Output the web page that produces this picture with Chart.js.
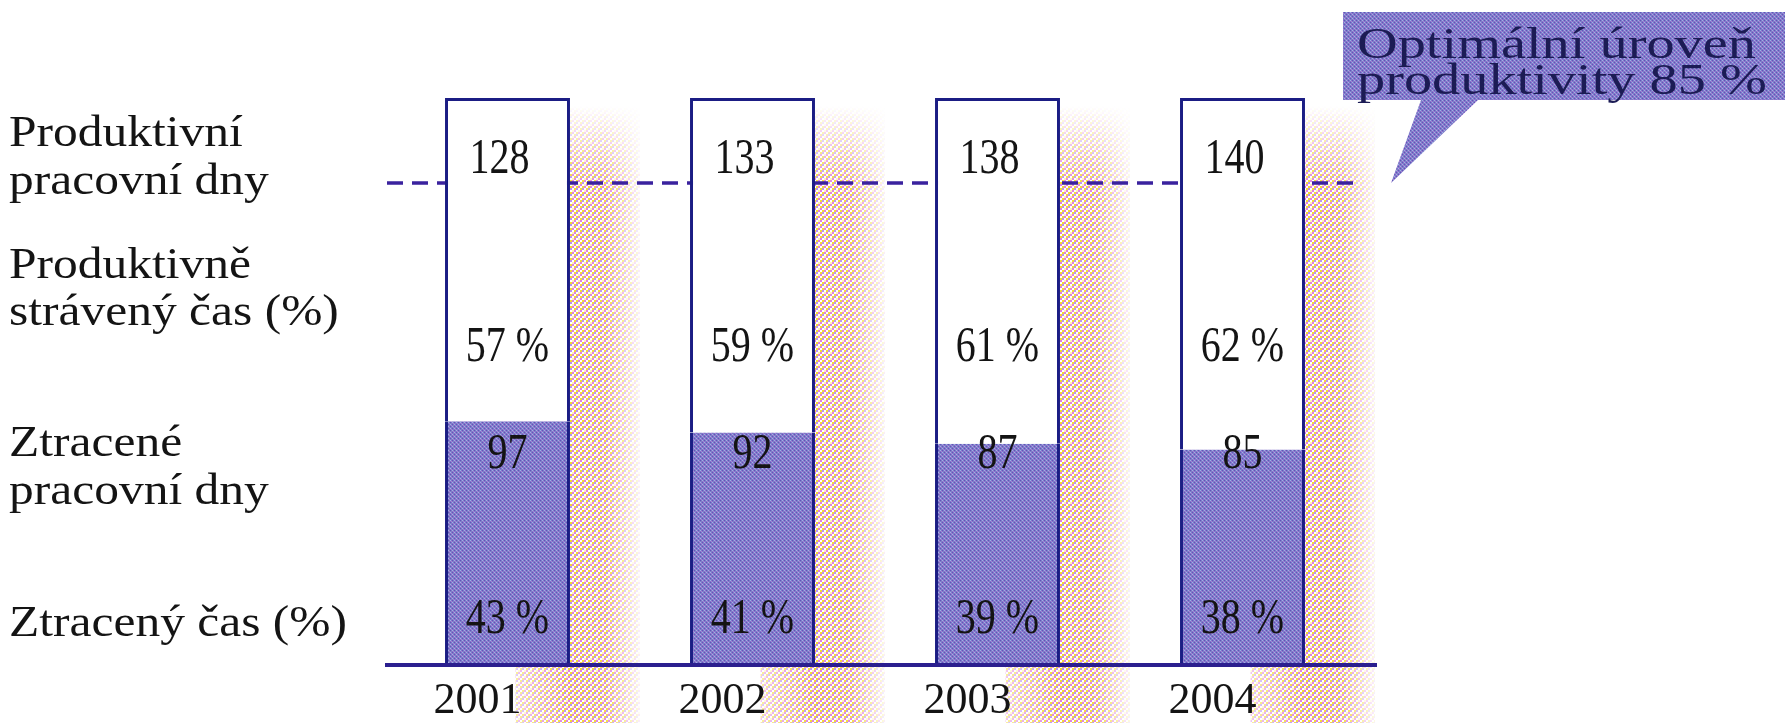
<!DOCTYPE html>
<html lang="cs">
<head>
<meta charset="utf-8">
<title>Produktivita 2001–2004</title>
<script src="https://cdn.jsdelivr.net/npm/chart.js@4.4.1/dist/chart.umd.min.js"></script>
<style>
  html, body { margin: 0; padding: 0; background: #fff; }
  #graf { display: block; }
</style>
</head>
<body>
<canvas id="graf" width="1785" height="723"></canvas>
<script>
var ROKY = ["2001", "2002", "2003", "2004"]
var PRODUKTIVNI_DNY = [128, 133, 138, 140]
var ZTRACENE_DNY = [97, 92, 87, 85]
var PRODUKTIVNI_PROC = [57, 59, 61, 62]
var ZTRACENE_PROC = [43, 41, 39, 38]
var OPTIMUM = 85

var RADKY_VLEVO = [
    ["Produktivní", "pracovní dny"],
    ["Produktivně", "strávený čas (%)"],
    ["Ztracené", "pracovní dny"],
    ["Ztracený čas (%)"],
]
var BUBLINA = ["Optimální úroveň", "produktivity " + OPTIMUM + " %"]

var BARVY = {
    "okraj": "#1b1d84",
    "carkovana": "#3a229e",
    "osa": "#2b1f8f",
    "text": "#141414",
    "text_bublina": "#1c1c55",
}
var PISMO = '"Liberation Serif", "DejaVu Serif", serif'

var canvas = document.getElementById("graf")
var ctx = canvas.getContext("2d")

// rastr modre vyplne (ztraceny cas + bublina)
function rastrModry(){
    var c = document.createElement("canvas")
    c.width = 4; c.height = 4
    var g = c.getContext("2d")
    g.fillStyle = "#7f7bc8"; g.fillRect(0, 0, 4, 4)
    g.fillStyle = "#5f55b8"; g.fillRect(0, 0, 1, 1); g.fillRect(2, 2, 1, 1)
    g.fillStyle = "#a0b0e6"; g.fillRect(2, 0, 1, 1); g.fillRect(0, 2, 1, 1)
    g.fillStyle = "#ad7ad6"; g.fillRect(1, 3, 1, 1); g.fillRect(3, 1, 1, 1)
    return ctx.createPattern(c, "repeat")
}

// rastr zluto-ruzoveho stinu vedle sloupcu (mrizka 3x3 bunek po 2 px)
function rastrStin(){
    var bunky = [
        ["#f4d932", "#df7ee0", "#ffffff"],
        ["#b98ff2", "#ffffff", "#f4d932"],
        ["#ffffff", "#fff2b0", "#df7ee0"],
    ]
    var c = document.createElement("canvas")
    c.width = 6; c.height = 6
    var g = c.getContext("2d")
    bunky.forEach(function(radek, r){
        radek.forEach(function(barva, s){
            g.fillStyle = barva
            g.fillRect(s * 2, r * 2, 2, 2)
        })
    })
    return ctx.createPattern(c, "repeat")
}

var modra = rastrModry()
var stinVzor = rastrStin()

function text(c, s, x, y, size, sx, color, align){
    c.save()
    c.translate(x, y)
    c.scale(sx, 1)
    c.font = size + "px " + PISMO
    c.fillStyle = color
    c.textAlign = align || "center"
    c.textBaseline = "middle"
    c.fillText(s, 0, 0)
    c.restore()
}

var popisky = {
    id: "popisky",
    // stiny a carkovana cara jdou pod osy i sloupce
    beforeDraw: function(chart, args, opts){
        var c = chart.ctx
        var area = chart.chartArea
        var horni = chart.getDatasetMeta(1).data
        var H = chart.height

        horni.forEach(function(bar){
            var xR = bar.x + bar.width / 2
            var xC = bar.x + 8
            var top = bar.y + 8
            var sirka = 70
            var w = xR + sirka - xC
            c.save()
            c.beginPath()
            c.moveTo(xR, top)
            c.lineTo(xR + sirka, top)
            c.lineTo(xR + sirka, H)
            c.lineTo(xC, H)
            c.lineTo(xC, area.bottom)
            c.lineTo(xR, area.bottom)
            c.closePath()
            c.clip()
            c.fillStyle = stinVzor
            c.fillRect(xC, top, w, H - top)
            var gx = c.createLinearGradient(xC, 0, xR + sirka, 0)
            var k = (xR - xC) / w
            gx.addColorStop(0, "rgba(255,255,255,0.55)")
            gx.addColorStop(k, "rgba(255,255,255,0)")
            gx.addColorStop(k + (1 - k) * 0.5, "rgba(255,255,255,0.08)")
            gx.addColorStop(1, "rgba(255,255,255,0.88)")
            c.fillStyle = gx
            c.fillRect(xC, top, w, H - top)
            var gy = c.createLinearGradient(0, top, 0, top + 80)
            gy.addColorStop(0, "rgba(255,255,255,1)")
            gy.addColorStop(1, "rgba(255,255,255,0)")
            c.fillStyle = gy
            c.fillRect(xC, top, w, 80)
            c.restore()
        })

        // carkovana cara optimalni urovne
        var yOpt = chart.scales.y.getPixelForValue(OPTIMUM)
        c.save()
        c.strokeStyle = BARVY["carkovana"]
        c.lineWidth = 3.5
        c.setLineDash([16, 9])
        c.beginPath()
        c.moveTo(area.left + 2, yOpt)
        c.lineTo(area.right - 8, yOpt)
        c.stroke()
        c.restore()
    },
    afterDatasetsDraw: function(chart, args, opts){
        var c = chart.ctx
        var area = chart.chartArea
        var y = chart.scales.y
        var horni = chart.getDatasetMeta(1).data

        // zakladni cara
        c.save()
        c.strokeStyle = BARVY["osa"]
        c.lineWidth = 4
        c.beginPath()
        c.moveTo(area.left, area.bottom)
        c.lineTo(area.right + 12, area.bottom)
        c.stroke()
        c.restore()

        // hodnoty ve sloupcich
        horni.forEach(function(bar, i){
            text(c, String(PRODUKTIVNI_DNY[i]), bar.x - 8, y.getPixelForValue(opts.radky[0]), 50, 0.8, BARVY["text"])
            text(c, PRODUKTIVNI_PROC[i] + " %", bar.x, y.getPixelForValue(opts.radky[1]), 50, 0.8, BARVY["text"])
            text(c, String(ZTRACENE_DNY[i]), bar.x, y.getPixelForValue(opts.radky[2]), 50, 0.8, BARVY["text"])
            text(c, ZTRACENE_PROC[i] + " %", bar.x, y.getPixelForValue(opts.radky[3]), 50, 0.8, BARVY["text"])
        })

        // popisky radku vlevo
        var r = 0
        RADKY_VLEVO.forEach(function(skupina){
            skupina.forEach(function(s){
                text(c, s, 9, opts.vlevo[r], 45, 1.1, BARVY["text"], "left")
                r++
            })
        })

        // bublina s optimalni urovni
        var b = opts.bublina
        var yOpt = y.getPixelForValue(OPTIMUM)
        c.save()
        c.fillStyle = modra
        c.beginPath()
        c.moveTo(b.x, b.y)
        c.lineTo(chart.width, b.y)
        c.lineTo(chart.width, b.y + b.h)
        c.lineTo(b.x + 135, b.y + b.h)
        c.lineTo(area.right + 26, yOpt)
        c.lineTo(b.x + 78, b.y + b.h)
        c.lineTo(b.x, b.y + b.h)
        c.closePath()
        c.fill()
        c.restore()
        text(c, BUBLINA[0], b.x + 14, b.y + 34, 44, 1.28, BARVY["text_bublina"], "left")
        text(c, BUBLINA[1], b.x + 14, b.y + 70, 44, 1.28, BARVY["text_bublina"], "left")
    },
}

var graf = new Chart(ctx, {
    type: "bar",
    data: {
        labels: ROKY,
        datasets: [
            {
                label: "Ztracený čas (%)",
                data: ZTRACENE_PROC,
                backgroundColor: modra,
                borderColor: BARVY["okraj"],
                borderWidth: {left: 3, right: 3, top: 0, bottom: 0},
                borderSkipped: false,
            },
            {
                label: "Produktivně strávený čas (%)",
                data: PRODUKTIVNI_PROC,
                backgroundColor: "#ffffff",
                borderColor: BARVY["okraj"],
                borderWidth: {left: 3, right: 3, top: 3, bottom: 0},
                borderSkipped: false,
            },
        ],
    },
    options: {
        responsive: false,
        animation: false,
        events: [],
        layout: {padding: {left: 385, right: 420, top: 98, bottom: 0}},
        datasets: {bar: {categoryPercentage: 1, barPercentage: 0.51}},
        scales: {
            x: {
                stacked: true,
                grid: {display: false},
                border: {display: false},
                ticks: {color: BARVY["text"], font: {family: PISMO, size: 44}, padding: 2, labelOffset: -30},
                afterFit: function(s){ s.height = 58 },
            },
            y: {stacked: true, display: false, min: 0, max: 100},
        },
        plugins: {
            legend: {display: false},
            tooltip: {enabled: false},
            popisky: {
                radky: [89, 56, 37, 8],
                vlevo: [134, 182, 266, 313, 444, 492, 624],
                bublina: {x: 1343, y: 12, h: 88},
            },
        },
    },
    plugins: [popisky],
})
</script>
</body>
</html>
